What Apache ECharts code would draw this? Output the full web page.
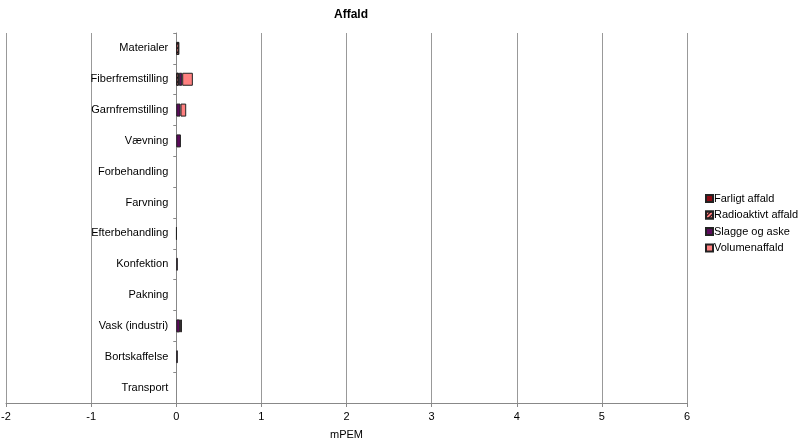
<!DOCTYPE html>
<html>
<head>
<meta charset="utf-8">
<script src="https://cdn.jsdelivr.net/npm/echarts@6/dist/echarts.min.js"></script>
<style>
  html, body { margin: 0; padding: 0; background: #fff; }
  #chart { width: 798px; height: 439px; }
</style>
</head>
<body>
<div id="chart"></div>
<script>
// kategorier (oppefra og ned)
var categories = ['Materialer', 'Fiberfremstilling', 'Garnfremstilling', 'Vævning', 'Forbehandling',
    'Farvning', 'Efterbehandling', 'Konfektion', 'Pakning', 'Vask (industri)', 'Bortskaffelse', 'Transport'];
// mPEM værdier pr. affaldstype
var farligt     = [0,     0,     0,     0,     0, 0, 0.005, 0,     0, 0,     0,     0];
var radioaktivt = [0.035, 0.03,  0,     0,     0, 0, 0,     0,     0, 0,     0,     0];
var slagge      = [0,     0.04,  0.05,  0.055, 0, 0, 0,     0.018, 0, 0.045, 0.018, 0];
var volumen     = [0,     0.125, 0.067, 0,     0, 0, 0,     0,     0, 0.022, 0,     0];
var seriesNames = ['Farligt affald', 'Radioaktivt affald', 'Slagge og aske', 'Volumenaffald'];
var xTicks = { min: -2, max: 6, interval: 1 };

var myChart = echarts.init(document.getElementById('chart'));

var font = 'Liberation Sans, Arial, sans-serif';
var gridLeft = 6, gridRight = 111;
// kategoriaksen skal stå ved x = 0
var plotWidth = 798 - gridLeft - gridRight;
var zeroOffset = plotWidth * (0 - xTicks.min) / (xTicks.max - xTicks.min);

function bar(name, data, color, decal) {
    var s = {
        name: name,
        type: 'bar',
        stack: 'affald',
        barWidth: 13,
        // nul-værdier tegnes ikke (ellers kommer der en kant)
        data: data.map(function(v) { return v === 0 ? '-' : v; }),
        itemStyle: {
            color: color,
            borderColor: '#222',
            borderWidth: 1
        }
    };
    if (decal) {
        s.itemStyle.decal = decal;
    }
    return s;
}

var option = {
    backgroundColor: '#fff',
    animation: false,
    title: {
        text: 'Affald',
        left: 346,
        top: 4,
        textAlign: 'center',
        textStyle: { fontFamily: font, fontSize: 12, fontWeight: 'bold', color: '#000' }
    },
    legend: {
        orient: 'vertical',
        left: 700,
        top: 188,
        itemWidth: 7,
        itemHeight: 7,
        itemGap: 5.5,
        icon: 'rect',
        textStyle: { fontFamily: font, fontSize: 11, color: '#000', padding: [0, 0, 0, -4] },
        data: seriesNames
    },
    grid: {
        left: gridLeft,
        right: gridRight,
        top: 33,
        bottom: 36,
        containLabel: false,
        outerBoundsMode: 'none'
    },
    xAxis: {
        type: 'value',
        min: xTicks.min,
        max: xTicks.max,
        interval: xTicks.interval,
        name: 'mPEM',
        nameLocation: 'middle',
        nameGap: 26,
        nameTextStyle: { fontFamily: font, fontSize: 11, color: '#000' },
        axisLine: { show: true, lineStyle: { color: '#888' } },
        axisTick: { show: true, length: 4, lineStyle: { color: '#888' } },
        axisLabel: { fontFamily: font, fontSize: 11, color: '#000', margin: 8 },
        splitLine: { show: true, lineStyle: { color: '#999' } }
    },
    yAxis: {
        type: 'category',
        inverse: true,
        data: categories,
        position: 'left',
        offset: -zeroOffset,
        axisLine: { show: true, onZero: false, lineStyle: { color: '#888' } },
        axisTick: { show: true, length: 3, lineStyle: { color: '#888' } },
        axisLabel: {
            fontFamily: font, fontSize: 11, color: '#000', margin: 8, interval: 0
        },
        splitLine: { show: false }
    },
    series: [
        bar(seriesNames[0], farligt, '#8b0a14'),
        bar(seriesNames[1], radioaktivt, '#ff7f7f', {
            symbol: 'rect',
            symbolSize: 1,
            color: '#000',
            dashArrayX: [1, 0],
            dashArrayY: [1, 2],
            rotation: -Math.PI / 4
        }),
        bar(seriesNames[2], slagge, '#5c0a5c'),
        bar(seriesNames[3], volumen, '#ff8080')
    ]
};

myChart.setOption(option);
</script>
</body>
</html>
